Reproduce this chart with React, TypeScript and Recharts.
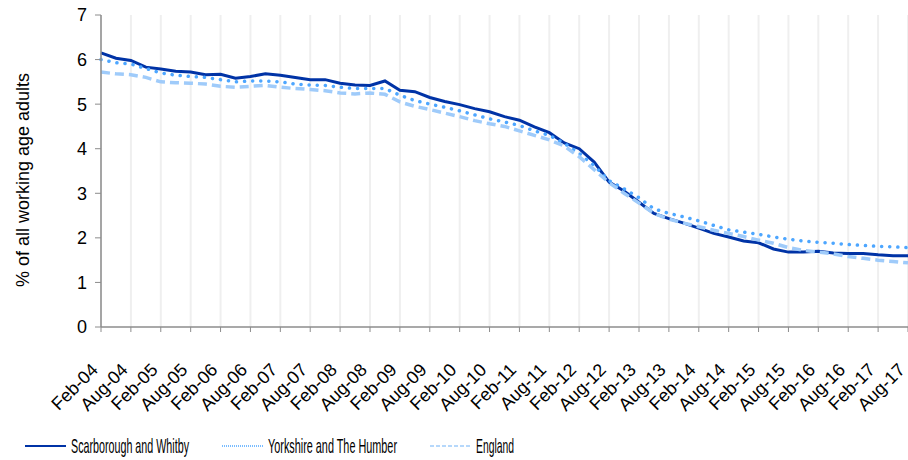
import { LineChart, Line, XAxis, YAxis, CartesianGrid, Legend } from 'recharts';

const months = [
  'Feb-04', 'May-04', 'Aug-04', 'Nov-04', 'Feb-05', 'May-05', 'Aug-05', 'Nov-05',
  'Feb-06', 'May-06', 'Aug-06', 'Nov-06', 'Feb-07', 'May-07', 'Aug-07', 'Nov-07',
  'Feb-08', 'May-08', 'Aug-08', 'Nov-08', 'Feb-09', 'May-09', 'Aug-09', 'Nov-09',
  'Feb-10', 'May-10', 'Aug-10', 'Nov-10', 'Feb-11', 'May-11', 'Aug-11', 'Nov-11',
  'Feb-12', 'May-12', 'Aug-12', 'Nov-12', 'Feb-13', 'May-13', 'Aug-13', 'Nov-13',
  'Feb-14', 'May-14', 'Aug-14', 'Nov-14', 'Feb-15', 'May-15', 'Aug-15', 'Nov-15',
  'Feb-16', 'May-16', 'Aug-16', 'Nov-16', 'Feb-17', 'May-17', 'Aug-17',
];

const scarborough = [
  6.15, 6.03, 5.98, 5.83, 5.79, 5.74, 5.72, 5.66, 5.67, 5.58, 5.62, 5.68, 5.65, 5.6,
  5.55, 5.55, 5.47, 5.43, 5.42, 5.52, 5.31, 5.28, 5.15, 5.06, 4.99, 4.9, 4.83, 4.72,
  4.64, 4.49, 4.36, 4.13, 4.0, 3.7, 3.25, 3.05, 2.8, 2.55, 2.43, 2.33, 2.22, 2.1,
  2.02, 1.93, 1.89, 1.75, 1.68, 1.68, 1.7, 1.66, 1.65, 1.65, 1.62, 1.6, 1.6,
];

const yorkshire = [
  6.0, 5.93, 5.9, 5.8, 5.7, 5.65, 5.62, 5.6, 5.55, 5.5, 5.52, 5.52, 5.5, 5.45,
  5.43, 5.42, 5.38, 5.35, 5.35, 5.35, 5.2, 5.08, 5.0, 4.93, 4.85, 4.76, 4.67, 4.6,
  4.52, 4.4, 4.3, 4.12, 3.9, 3.62, 3.28, 3.1, 2.9, 2.65, 2.55, 2.47, 2.38, 2.28,
  2.18, 2.13, 2.08, 2.02, 1.97, 1.93, 1.9, 1.88, 1.85, 1.83, 1.81, 1.8, 1.78,
];

const england = [
  5.72, 5.68, 5.66, 5.6, 5.5, 5.48, 5.47, 5.45, 5.4, 5.38, 5.4, 5.42, 5.38, 5.35,
  5.33, 5.3, 5.25, 5.23, 5.25, 5.22, 5.05, 4.95, 4.88, 4.8, 4.72, 4.63, 4.56, 4.5,
  4.4, 4.3, 4.2, 4.06, 3.82, 3.53, 3.24, 3.0, 2.78, 2.55, 2.42, 2.33, 2.25, 2.17,
  2.1, 2.03, 1.95, 1.88, 1.78, 1.72, 1.68, 1.64, 1.58, 1.54, 1.5, 1.47, 1.44,
];

const yTicks = [0, 1, 2, 3, 4, 5, 6, 7];

const series = [
  { key: 'scarborough', name: 'Scarborough and Whitby', color: '#0033a6', dash: undefined, width: 3, cap: 'butt' },
  { key: 'yorkshire', name: 'Yorkshire and The Humber', color: '#4da6ff', dash: '0.1 8', width: 3.5, cap: 'round' },
  { key: 'england', name: 'England', color: '#9fcbfa', dash: '9 5', width: 3.5, cap: 'butt' },
];

const data = months.map((m, i) => ({
  month: m,
  scarborough: scarborough[i],
  yorkshire: yorkshire[i],
  england: england[i],
}));

const FONT = 'Liberation Sans, Arial, sans-serif';

const MonthTick = ({ x, y, payload }: any) => (
  <text
    x={x - 2}
    y={y + 37}
    transform={`rotate(-45 ${x - 2} ${y + 37})`}
    textAnchor="end"
    fontSize={18}
    fontFamily={FONT}
    fill="#000"
  >
    {payload.value}
  </text>
);

const YLabel = () => (
  <text
    x={29}
    y={180}
    transform="rotate(-90 29 180)"
    textAnchor="middle"
    fontSize={18}
    fontFamily={FONT}
    fill="#000"
  >
    % of all working age adults
  </text>
);

// legend text in the original is squeezed horizontally
const SQUEEZE = 0.535;
const legendItems = [
  { x: 25, textX: 71, textW: 118 },
  { x: 222, textX: 268, textW: 129 },
  { x: 430, textX: 476, textW: 38 },
];

const LegendBox = () => (
  <svg width={908} height={30}>
    {series.map((s, i) => (
      <g key={s.key}>
        <line
          x1={legendItems[i].x}
          x2={legendItems[i].x + 41}
          y1={15}
          y2={15}
          stroke={s.color}
          strokeWidth={i === 0 ? 2 : 1.5}
          strokeDasharray={i === 1 ? '1 1' : i === 2 ? '4 2' : undefined}
        />
        <text
          transform={`translate(${legendItems[i].textX} 22) scale(${SQUEEZE} 1)`}
          fontSize={20}
          fontFamily={FONT}
          textLength={legendItems[i].textW / SQUEEZE}
          lengthAdjust="spacingAndGlyphs"
          fill="#000"
        >
          {s.name}
        </text>
      </g>
    ))}
  </svg>
);

export default function App() {
  return (
    <div style={{ width: 908, height: 460 }}>
      <style>{'body{margin:0}'}</style>
      <LineChart width={908} height={460} data={data} margin={{ top: 15, right: 0, left: 0, bottom: 0 }}>
        <CartesianGrid horizontal={false} stroke="#efefef" strokeWidth={2} />
        <XAxis
          dataKey="month"
          interval={1}
          height={93}
          tick={<MonthTick />}
          tickSize={5}
          stroke="#8c8c8c"
          axisLine={{ stroke: '#8c8c8c', strokeWidth: 1.5 }}
        />
        <YAxis
          domain={[0, 7]}
          ticks={yTicks}
          width={101}
          tickSize={6}
          tickMargin={8}
          stroke="#8c8c8c"
          axisLine={{ stroke: '#8c8c8c', strokeWidth: 1.5 }}
          tick={{ fill: '#000', fontSize: 18, fontFamily: FONT }}
          label={<YLabel />}
        />
        {series.map(s => (
          <Line
            key={s.key}
            dataKey={s.key}
            name={s.name}
            stroke={s.color}
            strokeWidth={s.width}
            strokeDasharray={s.dash}
            strokeLinecap={s.cap as any}
            dot={false}
            activeDot={false}
            isAnimationActive={false}
          />
        ))}
        <Legend content={<LegendBox />} height={40} wrapperStyle={{ left: 0, top: 431, width: 908 }} />
      </LineChart>
    </div>
  );
}
